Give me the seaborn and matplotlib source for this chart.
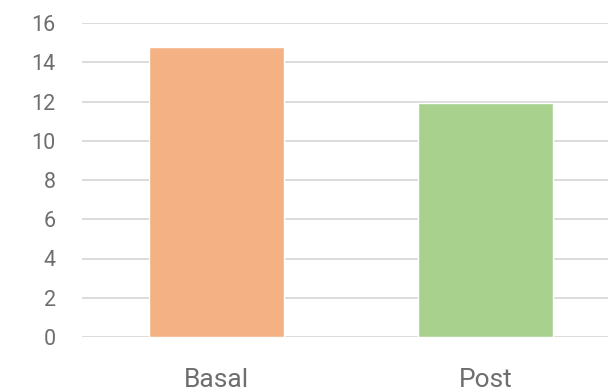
import matplotlib
matplotlib.use("Agg")
import matplotlib.pyplot as plt
import seaborn as sns
import pandas as pd

categories = ["Basal", "Post"]
values = [14.8, 11.9]
colors = ["#F4B183", "#A9D18E"]
yticks = [0, 2, 4, 6, 8, 10, 12, 14, 16]

sns.set_theme(style="white")
plt.rcParams['font.family'] = ['Roboto', 'DejaVu Sans']

df = pd.DataFrame({"cat": categories, "val": values})
W, H = 608, 392
fig = plt.figure(figsize=(W/100, H/100), dpi=100)
left, right, top, bottom = 82, 620, 23, 337
ax = fig.add_axes([left/W, 1 - bottom/H, (right - left)/W, (bottom - top)/H])
sns.barplot(data=df, x="cat", y="val", hue="cat", palette=colors, width=0.5,
            saturation=1, legend=False, ax=ax, zorder=3)
ax.set_xlim(-0.5, 1.5)
ax.set_ylim(0, 16)
ax.set_yticks(yticks)
ax.yaxis.grid(True, color="#D9D9D9", linewidth=1.3, zorder=0)
ax.set_axisbelow(True)
for s in ax.spines.values():
    s.set_visible(False)
ax.set_xlabel("")
ax.set_ylabel("")
ax.tick_params(axis="y", length=0, pad=19, labelsize=15.5, labelcolor="#6E6E6E")
ax.tick_params(axis="x", length=0, pad=22, labelsize=19, labelcolor="#6E6E6E")
fig.savefig("out.png", dpi=100)
